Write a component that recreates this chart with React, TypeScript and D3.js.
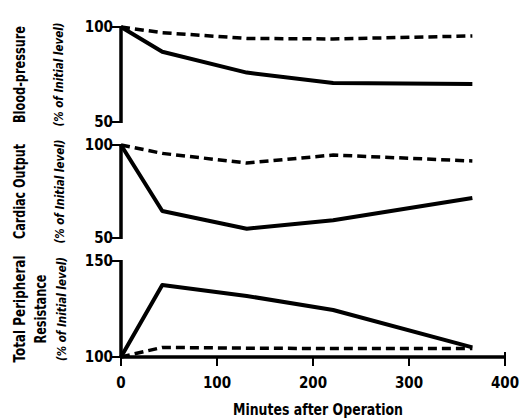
import React from 'react';
import * as d3 from 'd3';

// minutes after operation at which measurements were taken
const minutes = [0, 43, 131, 221, 366];

// blood pressure (% of initial)
const bpSolid = [100, 87, 76, 70.5, 70];
const bpDashed = [100, 97, 94, 93.7, 95.3];

// cardiac output (% of initial)
const coSolid = [100, 64.5, 55, 59.5, 71.5];
const coDashed = [100, 95.5, 90.3, 94.6, 91.4];

// total peripheral resistance (% of initial)
const tprSolid = [100, 137.5, 131.8, 124.5, 105];
const tprDashed = [100, 105, 104.6, 104.4, 104.4];

const xTicks = [0, 100, 200, 300, 400];
const xTitle = 'Minutes after Operation';
const unitLabel = '(% of Initial level)';

const W = 521;
const H = 419;
const FONT = '"DejaVu Sans Condensed", "DejaVu Sans", sans-serif';

const x = d3.scaleLinear().domain([0, 400]).range([121, 505]);

interface Panel {
  solid: number[];
  dashed: number[];
  domain: [number, number];
  range: [number, number];
  titles: { text: string; cx: number; len: number }[];
  unitX: number;
}

const panels: Panel[] = [
  {
    solid: bpSolid,
    dashed: bpDashed,
    domain: [50, 100],
    range: [122, 27],
    titles: [{ text: 'Blood-pressure', cx: 20, len: 97 }],
    unitX: 59,
  },
  {
    solid: coSolid,
    dashed: coDashed,
    domain: [50, 100],
    range: [238, 145],
    titles: [{ text: 'Cardiac Output', cx: 20, len: 95 }],
    unitX: 60,
  },
  {
    solid: tprSolid,
    dashed: tprDashed,
    domain: [100, 150],
    range: [357, 261],
    titles: [
      { text: 'Total Peripheral', cx: 20, len: 107 },
      { text: 'Resistance', cx: 41, len: 69 },
    ],
    unitX: 62,
  },
];

const PanelView: React.FC<{ p: Panel }> = ({ p }) => {
  const y = d3.scaleLinear().domain(p.domain).range(p.range);
  const line = d3
    .line<number>()
    .x((_, i) => x(minutes[i]))
    .y((d) => y(d));
  const midY = (p.range[0] + p.range[1]) / 2;
  return (
    <g>
      <path d={line(p.dashed) ?? ''} fill="none" stroke="#000" strokeWidth={3.5} strokeDasharray="9 5" />
      <path d={line(p.solid) ?? ''} fill="none" stroke="#000" strokeWidth={4} strokeLinejoin="round" />
      <line x1={x(0)} x2={x(0)} y1={y(p.domain[0]) + 1} y2={y(p.domain[1]) - 1} stroke="#000" strokeWidth={3.5} />
      {p.domain.map((t) => (
        <g key={t}>
          <line x1={x(0) - 9} x2={x(0)} y1={y(t)} y2={y(t)} stroke="#000" strokeWidth={2} />
          <text x={x(0) - 8} y={y(t)} dy="0.36em" textAnchor="end" fontSize={15} fontWeight="bold" fontFamily={FONT}>
            {t}
          </text>
        </g>
      ))}
      {p.titles.map((t) => (
        <text
          key={t.text}
          transform={`translate(${t.cx},${midY}) rotate(-90)`}
          textAnchor="middle"
          dy="0.36em"
          fontSize={15}
          fontWeight="bold"
          fontFamily={FONT}
          textLength={t.len}
          lengthAdjust="spacingAndGlyphs"
        >
          {t.text}
        </text>
      ))}
      <text
        transform={`translate(${p.unitX},${midY}) rotate(-90)`}
        textAnchor="middle"
        dy="0.36em"
        fontSize={12}
        fontWeight="bold"
        fontStyle="italic"
        fontFamily={FONT}
        textLength={104}
        lengthAdjust="spacingAndGlyphs"
      >
        {unitLabel}
      </text>
    </g>
  );
};

export default function App() {
  const axisY = 357;
  return (
    <svg width={W} height={H} style={{ position: 'absolute', left: 0, top: 0, background: '#fff' }}>
      {panels.map((p, i) => (
        <PanelView key={i} p={p} />
      ))}
      <line x1={x(0) - 1} x2={x(400)} y1={axisY} y2={axisY} stroke="#000" strokeWidth={3.5} />
      {xTicks.map((t) => (
        <g key={t}>
          <line x1={x(t)} x2={x(t)} y1={axisY} y2={axisY + 9} stroke="#000" strokeWidth={2} />
          <text x={x(t)} y={383} dy="0.36em" textAnchor="middle" fontSize={15} fontWeight="bold" fontFamily={FONT}>
            {t}
          </text>
        </g>
      ))}
      <line x1={x(400)} x2={x(400)} y1={axisY - 5} y2={axisY} stroke="#000" strokeWidth={2} />
      <text
        x={318}
        y={410}
        dy="0.36em"
        textAnchor="middle"
        fontSize={15}
        fontWeight="bold"
        fontFamily={FONT}
        textLength={170}
        lengthAdjust="spacingAndGlyphs"
      >
        {xTitle}
      </text>
    </svg>
  );
}
